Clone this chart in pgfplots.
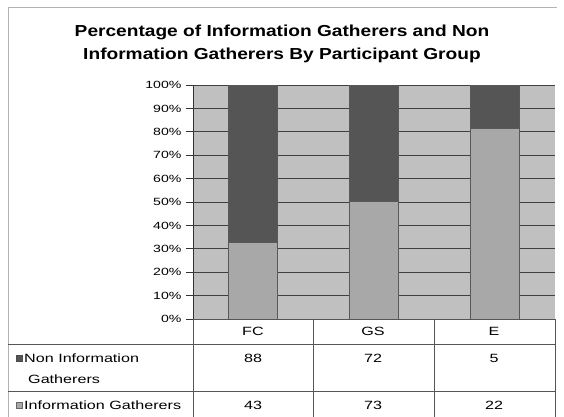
\documentclass[border=0pt]{standalone}
\usepackage{pgfplots}
\pgfplotsset{compat=1.18}
\usepackage{fontspec}
\setmainfont{Liberation Sans}
\newfontfamily\titlefont[FakeStretch=1.2]{Liberation Sans}
\newfontfamily\widefont[FakeStretch=1.35]{Liberation Sans}
\definecolor{bgc}{HTML}{C0C0C0}
\definecolor{darkbar}{HTML}{555555}
\definecolor{lightbar}{HTML}{A8A8A8}
\definecolor{linec}{HTML}{555555}
\begin{document}
\begin{tikzpicture}
\path[use as bounding box] (0,0) rectangle (564bp,-417bp);
\draw[gray!60, line width=1bp] (8bp,-7bp) -- (557bp,-7bp);
\draw[gray!60, line width=1bp] (8bp,-7bp) -- (8bp,-417bp);
\node[font=\titlefont\bfseries\fontsize{16}{23}\selectfont, align=center] at (282bp,-44bp)
  {Percentage of Information Gatherers and Non\\Information Gatherers By Participant Group};
\begin{axis}[
  at={(193bp,-319bp)}, anchor=south west,
  scale only axis, width=362bp, height=234bp,
  xmin=0.5, xmax=3.5, ymin=0, ymax=100,
  ybar stacked, bar width=49bp,
  axis background/.style={fill=bgc},
  axis x line=none, axis y line*=left,
  y axis line style={-, black!80, line width=0.8bp},
  ymajorgrids, grid style={black!75, line width=0.9bp},
  ytick={0,10,...,100},
  yticklabel={\pgfmathprintnumber{\tick}\%},
  yticklabel style={font=\widefont\fontsize{10.5}{12}\selectfont, xshift=-1bp},
  /pgf/number format/assume math mode=true,
  xtick=\empty,
  tick align=outside, major tick length=7bp,
  ytick style={black!80, line width=0.8bp},
  clip=false,
]
\addplot[fill=lightbar, draw=black!65, line width=0.7bp] coordinates {(1,32.82) (2,50.34) (3,81.48)};
\addplot[fill=darkbar, draw=black!65, line width=0.7bp] coordinates {(1,67.18) (2,49.66) (3,18.52)};
\end{axis}
% data table
\begin{scope}[linec, line width=0.9bp]
\draw (193bp,-319bp) -- (555bp,-319bp);
\draw (8bp,-344bp) -- (555bp,-344bp);
\draw (8bp,-391bp) -- (555bp,-391bp);
\foreach \xx in {193,313,434,555} \draw (\xx bp,-319bp) -- (\xx bp,-417bp);
\end{scope}
\begin{scope}[font=\widefont\fontsize{12}{14}\selectfont]
\node at (253bp,-331bp) {FC};
\node at (373bp,-331bp) {GS};
\node at (494bp,-331bp) {E};
\node at (253bp,-358bp) {88};
\node at (373bp,-358bp) {72};
\node at (494bp,-358bp) {5};
\node at (253bp,-405bp) {43};
\node at (373bp,-405bp) {73};
\node at (494bp,-405bp) {22};
\fill[darkbar, draw=black!70] (16bp,-355bp) rectangle (22bp,-361bp);
\node[anchor=west, inner sep=0pt] at (24bp,-358bp) {Non Information};
\node[anchor=west, inner sep=0pt] at (28bp,-379bp) {Gatherers};
\fill[lightbar, draw=black!60] (16bp,-402bp) rectangle (22bp,-408bp);
\node[anchor=west, inner sep=0pt] at (24bp,-405bp) {Information Gatherers};
\end{scope}
\end{tikzpicture}
\end{document}
